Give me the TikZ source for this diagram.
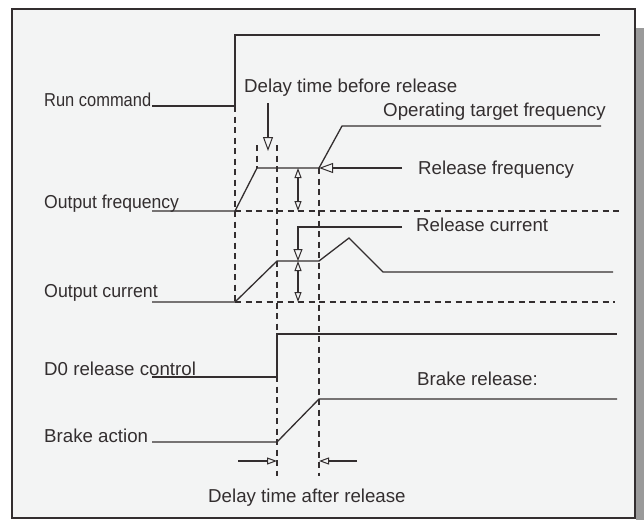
\documentclass[tikz,border=0pt]{standalone}
\usepackage{fontspec}
\setmainfont{Liberation Sans}
\usepackage{tikz}
\usetikzlibrary{arrows.meta, positioning, calc}
\definecolor{panelFill}{HTML}{F3F4F4}
\definecolor{inkDark}{HTML}{332E2F}
\definecolor{shadowGrey}{HTML}{9A9A9A}

\begin{document}
\begin{tikzpicture}[
    x=1pt, y=-1pt,
    sig/.style={draw=inkDark, line width=1.3pt},
    guide/.style={draw=inkDark, line width=1.1pt, dash pattern=on 6pt off 4.5pt},
    lbl/.style={anchor=base west, inner sep=0pt, text=inkDark, font=\fontsize{18.7}{22}\selectfont},
    bigtip/.style={-{Triangle[open, length=14pt, width=10pt, line width=1pt]}},
    midtip/.style={-{Triangle[open, length=12pt, width=9pt, line width=1pt]}},
    dimtip/.style={-{Triangle[open, length=10pt, width=7pt, line width=1pt]}},
    twotip/.style={{Triangle[open, length=10pt, width=7pt, line width=1pt]}-{Triangle[open, length=10pt, width=7pt, line width=1pt]}}
  ]
  \useasboundingbox (0,0) rectangle (644,520);
  % Frame with shadow
  \fill[shadowGrey] (636,28) rectangle (644,520);
  \filldraw[fill=panelFill, draw=inkDark, line width=1.5pt] (12,9) rectangle (635,518);

  % Signal names
  \node[lbl] (runlbl) at (44,106) {\scalebox{0.88}[1]{Run command}};
  \node[lbl] (freqlbl) at (44,208) {\scalebox{0.94}[1]{Output frequency}};
  \node[lbl] (curlbl) at (44,297) {\scalebox{0.95}[1]{Output current}};
  \node[lbl] (dolbl) at (44,375) {D0 release control};
  \node[lbl] (brklbl) at (44,442) {Brake action};

  % Annotations
  \node[lbl] (before) at (244,92) {Delay time before release};
  \node[lbl] (target) at (383,116) {Operating target frequency};
  \node[lbl] (relfreq) at (418,174) {Release frequency};
  \node[lbl] (relcur) at (416,231) {Release current};
  \node[lbl] (brkrel) at (417,385) {Brake release:};
  \node[lbl] (after) at (208,502) {Delay time after release};

  % Time instants
  \coordinate (tstart) at (235,106);
  \coordinate (tdo) at (277,145);
  \coordinate (tbrk) at (319,168);

  % Waveforms
  \draw[sig] (152,106) -- (tstart) -- (235,35) -- (600,35);
  \draw[sig] (152,211) -- (235,211) -- (257,168) -- (319,168) -- (342,126) -- (601,126);
  \draw[sig] (152,302) -- (235,302) -- (277,261) -- (319,261) -- (349,238) -- (383,272) -- (613,272);
  \draw[sig] (152,377) -- (277,377) -- (277,334) -- (617,334);
  \draw[sig] (152,442) -- (277,442) -- (319,399) -- (617,399);

  % Zero levels
  \draw[guide] (235,211) -- (620,211);
  \draw[guide] (235,302) -- (615,302);

  % Vertical guides
  \draw[guide] (tstart) -- (235,302);
  \draw[guide] (257,145) -- (257,168);
  \draw[guide] (tdo) -- (277,476);
  \draw[guide] (tbrk) -- (319,476);

  % Arrows
  \draw[sig, bigtip] (268,103) -- (268,151);
  \draw[sig, bigtip] (402,168) -- (tbrk);
  \draw[sig, twotip] (298,168) -- (298,211);
  \draw[sig, midtip] (402,227) -- (298,227) -- (298,261);
  \draw[sig, twotip] (298,261) -- (298,302);
  \draw[sig, dimtip] (238,461) -- (277,461);
  \draw[sig, dimtip] (357,461) -- (319,461);
\end{tikzpicture}
\end{document}
